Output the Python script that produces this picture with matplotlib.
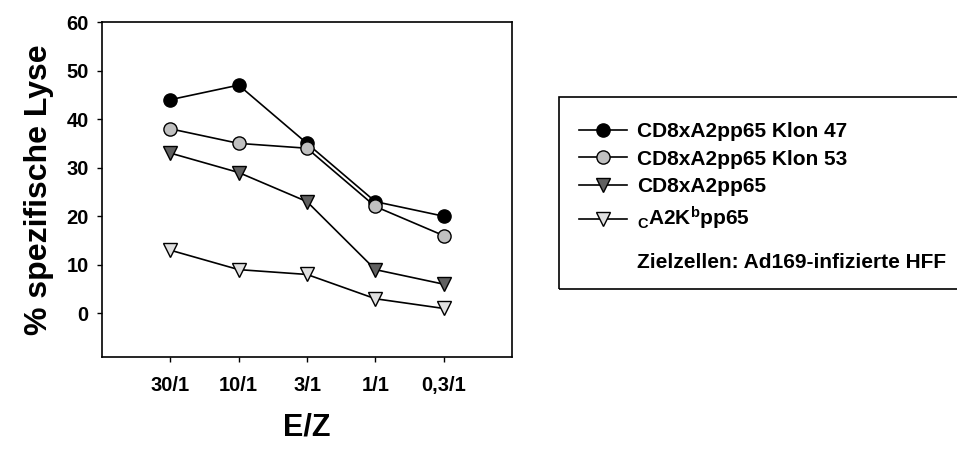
import matplotlib
matplotlib.use("Agg")
import matplotlib.pyplot as plt
from matplotlib.patches import Rectangle

plt.rcParams['font.family'] = ['Liberation Sans', 'DejaVu Sans']
plt.rcParams['font.weight'] = 'bold'
plt.rcParams['mathtext.fontset'] = 'custom'
plt.rcParams['mathtext.rm'] = 'Liberation Sans:bold'
plt.rcParams['mathtext.bf'] = 'Liberation Sans:bold'
plt.rcParams['mathtext.it'] = 'Liberation Sans:bold'
plt.rcParams['mathtext.default'] = 'bf'

# effector/target ratios
ratios = ['30/1', '10/1', '3/1', '1/1', '0,3/1']

# % specific lysis per effector population
klon47 = [44, 47, 35, 23, 20]
klon53 = [38, 35, 34, 22, 16]
cd8_a2 = [33, 29, 23, 9, 6]
a2kb = [13, 9, 8, 3, 1]

labels = ['CD8xA2pp65 Klon 47', 'CD8xA2pp65 Klon 53', 'CD8xA2pp65',
          r'${}_{C}A2K^{b}pp65$']
note = 'Zielzellen: Ad169-infizierte HFF'

styles = [
    dict(marker='o', mfc='black'),
    dict(marker='o', mfc='#c0c0c0'),
    dict(marker='v', mfc='#606060'),
    dict(marker='v', mfc='#e0e0e0'),
]

W, H = 957, 450
fig = plt.figure(figsize=(W / 100, H / 100), dpi=100)
ax = fig.add_axes([102 / W, 93 / H, 410 / W, 335 / H])

x = list(range(1, len(ratios) + 1))
series = [klon47, klon53, cd8_a2, a2kb]
handles = []
for y, st, lab in zip(series, styles, labels):
    ms = 9.5 if st['marker'] == 'o' else 10
    h, = ax.plot(x, y, color='black', lw=1.2, marker=st['marker'],
                 mfc=st['mfc'], mec='black', mew=1, ms=ms, label=lab)
    handles.append(h)

ax.set_xlim(0, 6)
ax.set_ylim(-9, 60)
ax.set_yticks(range(0, 61, 10))
ax.set_xticks(x)
ax.set_xticklabels(ratios)
ax.tick_params(direction='out', length=3.5, width=1, labelsize=14.5)
ax.tick_params(axis='x', pad=10)
ax.tick_params(axis='y', pad=6)
for sp in ax.spines.values():
    sp.set_linewidth(1.2)
for lbl in ax.get_xticklabels() + ax.get_yticklabels():
    lbl.set_fontweight('bold')

ax.set_ylabel('% spezifische Lyse', fontsize=23, fontweight='bold')
ax.yaxis.set_label_coords((39 - 102) / 410, 0.5)
ax.yaxis.label.set_va('center')
ax.set_xlabel('E/Z', fontsize=22, fontweight='bold')
ax.xaxis.set_label_coords((307 - 102) / 410, (H - 427 - 93) / 335)
ax.xaxis.label.set_va('center')

# legend box runs off the right edge of the figure
fig.patches.append(Rectangle((559 / W, 1 - 289 / H), 420 / W, 192 / H,
                             transform=fig.transFigure, fill=False,
                             edgecolor='black', lw=1.2, clip_on=False))
fig.legend(handles, labels, loc='upper left',
           bbox_to_anchor=(579 / W, 1 - 122 / H), frameon=False,
           prop=dict(size=15, weight='bold'), handlelength=2.3,
           handletextpad=0.5, labelspacing=0.42, borderaxespad=0,
           borderpad=0)
fig.text(637 / W, 1 - 262 / H, note, fontsize=15, fontweight='bold',
         ha='left', va='center')

fig.savefig('out.png', dpi=100)
